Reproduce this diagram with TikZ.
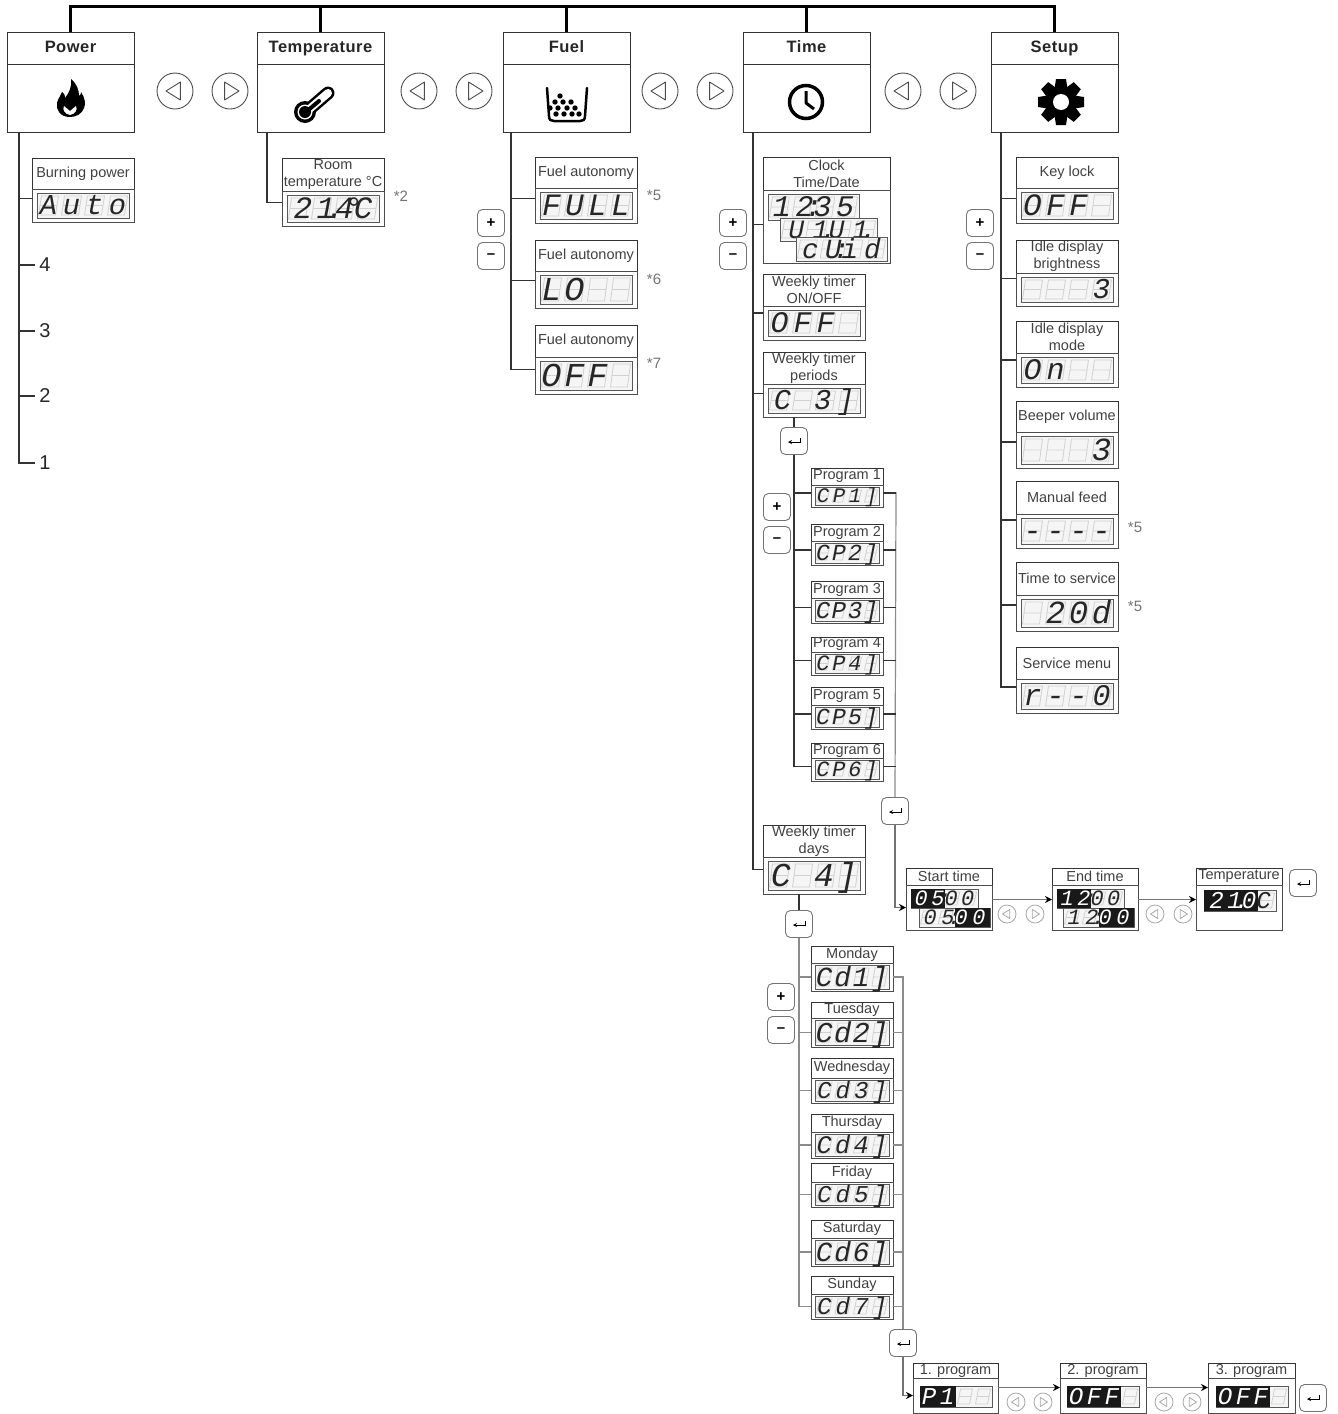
\documentclass[tikz,border=0pt]{standalone}
\usepackage{fontspec}
\setmainfont{Liberation Sans}
\newfontfamily\lcdfont{Liberation Mono}
\usetikzlibrary{arrows.meta, positioning}

% zero-width dot or colon between two display cells
\newcommand{\lcddot}[1]{\kern-.3em\rlap{#1}\kern.3em}

% display: name, x, y, width, height, text, black cells
\newcommand{\lcd}[7]{%
  \pgfmathsetmacro\lcdx{#2}%
  \pgfmathsetmacro\lcdy{#3}%
  \pgfmathsetmacro\lcdw{#4}%
  \pgfmathsetmacro\lcdh{#5}%
  \pgfmathsetmacro\lcdcw{\lcdw/4}%
  \pgfmathsetmacro\lcdfs{\lcdh*1.15}%
  \pgfmathsetmacro\lcdls{(\lcdcw/\lcdfs-0.6)*100}%
  \pgfmathsetmacro\lcdth{\lcdfs*0.66}%
  \node (#1) [lcdbg, minimum width=\lcdw, minimum height=\lcdh] at (\lcdx,\lcdy) {};
  \foreach \k in {0,1,2,3}{
    \pgfmathsetmacro\lcdl{\lcdx+\k*\lcdcw+3}
    \pgfmathsetmacro\lcdr{\lcdl+\lcdcw-6}
    \draw[ghost] (\lcdl+1.5,\lcdy+3) -- (\lcdr+1.5,\lcdy+3) -- (\lcdr-1.5,\lcdy+\lcdh-3) -- (\lcdl-1.5,\lcdy+\lcdh-3) -- cycle
      (\lcdl,\lcdy+\lcdh/2) -- (\lcdr,\lcdy+\lcdh/2);
  }
  \ifx\relax#7\relax\else
    \foreach \k in {#7}{\fill[black!90] (\lcdx+\k*\lcdcw,\lcdy) rectangle ++(\lcdcw,\lcdh);}
  \fi
  \node (#1v) [inner sep=0pt, text height=\lcdth pt, text depth=0pt, text=black!85]
    at (#1.center) {\lcdfont\itshape\fontsize{\lcdfs}{\lcdfs}\selectfont\addfontfeature{LetterSpace=\lcdls}#6\null};
}

% box: name, left, right, top, mid, bottom, title
\newcommand{\menubox}[7]{%
  \node (#1t) [titlebox, minimum width=#3-#2, minimum height=#5-#4] at (#2,#4) {#7};
  \node (#1) [bodybox, minimum width=#3-#2, minimum height=#6-#5] at (#2,#5) {};
}

% box holding one display, plus its text and black cells
\newcommand{\menulcd}[9]{%
  \menubox{#1}{#2}{#3}{#4}{#5}{#6}{#7}
  \pgfmathsetmacro\lcdm{(#6-#5)<30 ? 2 : 4}%
  \pgfmathsetmacro\lcdn{(#6-#5)<30 ? 4 : 5}%
  \lcd{#1d}{#2+\lcdn}{#5+\lcdm}{#3-#2-2*\lcdn}{#6-#5-2*\lcdm}{#8}{#9}
}

% top level box: name, left, title
\newcommand{\mainbox}[3]{%
  \node (#1t) [headbox] at (#2,32) {#3};
  \node (#1) [iconbox] at (#2,64) {};
}

\newcommand{\enterbtn}[3]{%
  \node (#1) [keybtn] at (#2,#3) {};
  \draw[enterarrow] (#2+6,#3-3) -- (#2+6,#3+1) -- (#2-6,#3+1);
}
\newcommand{\navleft}[5]{%
  \node (#1) [#5, minimum size=2*#4] at (#2,#3) {};
  \draw[#5, line join=round] (#2-#4*0.5,#3) -- (#2+#4*0.3,#3-#4*0.5) -- (#2+#4*0.3,#3+#4*0.5) -- cycle;
}
\newcommand{\navright}[5]{%
  \node (#1) [#5, minimum size=2*#4] at (#2,#3) {};
  \draw[#5, line join=round] (#2+#4*0.5,#3) -- (#2-#4*0.3,#3-#4*0.5) -- (#2-#4*0.3,#3+#4*0.5) -- cycle;
}

\begin{document}
\begin{tikzpicture}[x=1pt,y=-1pt]
\tikzstyle{bus} = [line width=3pt, black]
\tikzstyle{tree} = [line width=1.3pt, black!80]
\tikzstyle{rail} = [line width=1.2pt, black!45]
\tikzstyle{arrow} = [line width=1.2pt, black!55, -{Stealth[length=7pt,width=7pt,black]}]
\tikzstyle{enterarrow} = [line width=1pt, -{Stealth[length=4pt,width=4pt]}]
\tikzstyle{headbox} = [rectangle, draw=black!80, line width=1pt, anchor=north west, minimum width=127, minimum height=32, inner sep=0pt, outer sep=0pt, text=black!85, text height=12pt, text depth=3pt, font=\fontsize{16.5}{18}\selectfont\bfseries\addfontfeature{LetterSpace=3}]
\tikzstyle{iconbox} = [rectangle, draw=black!80, line width=1pt, anchor=north west, minimum width=127, minimum height=68, inner sep=0pt, outer sep=0pt]
\tikzstyle{titlebox} = [rectangle, draw=black!80, line width=1pt, anchor=north west, inner sep=0pt, outer sep=0pt, align=center, text=black!75, font=\fontsize{14.5}{17}\selectfont]
\tikzstyle{bodybox} = [rectangle, draw=black!70, line width=1pt, anchor=north west, inner sep=0pt, outer sep=0pt]
\tikzstyle{lcdbg} = [rectangle, draw=black!65, fill=black!4, line width=.8pt, anchor=north west, inner sep=0pt, outer sep=0pt]
\tikzstyle{ghost} = [black!18, line width=.8pt]
\tikzstyle{keybtn} = [rectangle, rounded corners=5pt, draw=black!55, line width=.9pt, minimum width=27, minimum height=27, inner sep=0pt, font=\fontsize{15}{15}\selectfont\bfseries]
\tikzstyle{navbig} = [circle, draw=black!70, line width=.9pt, inner sep=0pt]
\tikzstyle{navfade} = [circle, draw=black!35, line width=.8pt, inner sep=0pt]
\tikzstyle{note} = [text=black!55, inner sep=0pt, font=\fontsize{15}{15}\selectfont]
\tikzstyle{lvl} = [text=black!85, inner sep=4pt, font=\fontsize{20}{20}\selectfont]

\useasboundingbox (0,0) rectangle (1338,1414);

% top level
\mainbox{power}{7}{Power}
\mainbox{temp}{257}{Temperature}
\mainbox{fuel}{503}{Fuel}
\mainbox{time}{743}{Time}
\mainbox{setup}{991}{Setup}

\coordinate (bus) at (0,6);
\draw [bus] (powert.north) -- (powert.north |- bus) -- (setupt.north |- bus) -- (setupt.north);
\foreach \n in {temp,fuel,time}
  \draw [bus] (\n t.north) -- (\n t.north |- bus);

\navleft{navla}{175}{91}{18}{navbig}
\navright{navra}{230}{91}{18}{navbig}
\navleft{navlb}{419}{91}{18}{navbig}
\navright{navrb}{474}{91}{18}{navbig}
\navleft{navlc}{660}{91}{18}{navbig}
\navright{navrc}{715}{91}{18}{navbig}
\navleft{navld}{903}{91}{18}{navbig}
\navright{navrd}{958}{91}{18}{navbig}

% icons
\fill[black] (70,117) .. controls (60,117) and (56,110) .. (57,103) .. controls (58,98) and (61,96) .. (62,92)
  .. controls (65,94) and (65,96) .. (65,98) .. controls (69,93) and (72,87) .. (71,79)
  .. controls (77,84) and (79,90) .. (79,96) .. controls (81,95) and (81,93) .. (81,92)
  .. controls (85,98) and (86,104) .. (84,108) .. controls (82,114) and (76,117) .. (70,117) -- cycle;
\fill[white] (70,115) .. controls (65,114) and (62,110) .. (64,106) .. controls (66,108) and (68,109) .. (70,111)
  .. controls (72,109) and (74,108) .. (76,106) .. controls (78,110) and (75,114) .. (70,115) -- cycle;
\draw[line width=13pt, line cap=round] (306,112) -- (328,93);
\fill (305,112) circle (11);
\draw[white, line width=8pt, line cap=round] (306,112) -- (328,93);
\fill[white] (305,112) circle (7.5);
\fill (305,112) circle (6);
\draw[line width=4pt, line cap=round] (306,112) -- (319,101);
\draw[line width=2.5pt, line cap=round, line join=round] (547,88) -- (549,116) .. controls (549,120) and (551,121) .. (554,121) -- (580,121) .. controls (583,121) and (585,120) .. (585,116) -- (587,88);
\foreach \bx/\by in {560/96,555/102,563/102,571/102,550/108,558/108,567/108,575/108,556/114,564/114,572/114,579/114}
  \fill (\bx,\by) circle (2.7);
\draw[line width=3.5pt] (806,102) circle (16.5);
\draw[line width=3pt, line join=round] (806,91) -- (806,103) -- (814,109);
\fill (1061,102) circle (16);
\foreach \a in {0,45,...,315}
  \fill[shift={(1061,102)}, rotate=\a] (-5,-23) -- (5,-23) -- (7,-10) -- (-7,-10) -- cycle;
\fill[white] (1061,102) circle (8);

% power
\coordinate (powertrunk) at (19,132);
\menulcd{burning}{32}{134}{158}{189}{222}{Burning power}{Auto}{}
\node (lvl4) [lvl] at (45,265) {4};
\node (lvl3) [lvl] at (45,331) {3};
\node (lvl2) [lvl] at (45,396) {2};
\node (lvl1) [lvl] at (45,463) {1};
\draw [tree] (powertrunk) |- (lvl1.west);
\draw [tree] ([yshift=7pt]burning.west -| powertrunk) -- ([yshift=7pt]burning.west);
\foreach \n in {lvl4,lvl3,lvl2}
  \draw [tree] (powertrunk |- \n.west) -- (\n.west);

% temperature
\coordinate (temptrunk) at (267,132);
\menulcd{room}{282}{384}{158}{191}{226}{Room\\temperature °C}{21\lcddot{.}4\lcddot{°}C}{}
\node (noteb) [note] at (401,196) {*2};
\draw [tree] (temptrunk) |- ([yshift=6pt]room.west);

% fuel
\coordinate (fueltrunk) at (511,132);
\menulcd{fuelfull}{535}{637}{157}{188}{223}{Fuel autonomy}{FULL}{}
\menulcd{fuello}{535}{637}{240}{271}{308}{Fuel autonomy}{LO~~}{}
\menulcd{fueloff}{535}{637}{325}{357}{394}{Fuel autonomy}{OFF~}{}
\node (notec) [note] at (654,195) {*5};
\node (noted) [note] at (654,279) {*6};
\node (notee) [note] at (654,363) {*7};
\node (plusf) [keybtn] at (491,223) {+};
\node (minusf) [keybtn] at (491,256) {–};
\draw [tree] (fueltrunk) |- ([yshift=6pt]fueloff.west);
\foreach \n/\s in {fuelfull/7,fuello/9}
  \draw [tree] ([yshift=\s pt]\n.west) -- ([yshift=\s pt]\n.west -| fueltrunk);

% time
\coordinate (timetrunk) at (753,132);
\menubox{clock}{763}{890}{157}{190}{263}{Clock\\Time/Date}
\lcd{clocka}{768}{194}{91}{26}{12\lcddot{:}35}{}
\lcd{clockb}{780}{218}{97}{23}{U1\lcddot{.}U1\lcddot{.}}{}
\lcd{clockc}{796}{237}{91}{24}{cU\lcddot{:}id}{}
\menulcd{onoff}{763}{865}{274}{306}{340}{Weekly timer\\ON/OFF}{OFF~}{}
\menulcd{periods}{763}{865}{352}{384}{417}{Weekly timer\\periods}{C~3]}{}
\menulcd{days}{763}{865}{825}{857}{894}{Weekly timer\\days}{C~4]}{}
\node (plust) [keybtn] at (733,223) {+};
\node (minust) [keybtn] at (733,256) {–};
\draw [tree] (timetrunk) |- ([yshift=6pt]days.west);
\foreach \n/\s in {clock/2,onoff/10,periods/7}
  \draw [tree] ([yshift=\s pt]\n.west) -- ([yshift=\s pt]\n.west -| timetrunk);

% programs
\enterbtn{enterperiods}{794}{441}
\menulcd{pa}{811}{883}{468}{485}{507}{Program 1}{CP1]}{}
\menulcd{pb}{811}{883}{524}{541}{565}{Program 2}{CP2]}{}
\menulcd{pc}{811}{883}{581}{598}{623}{Program 3}{CP3]}{}
\menulcd{pd}{811}{883}{637}{652}{675}{Program 4}{CP4]}{}
\menulcd{pe}{811}{883}{687}{705}{729}{Program 5}{CP5]}{}
\menulcd{pf}{811}{883}{743}{758}{781}{Program 6}{CP6]}{}
\node (plusp) [keybtn] at (777,507) {+};
\node (minusp) [keybtn] at (777,540) {–};
\draw [tree] (enterperiods.north |- periods.south) -- (enterperiods.north);
\draw [tree] (enterperiods.south) |- ([yshift=3pt]pf.west);
\coordinate (prail) at (896,492);
\enterbtn{enterp}{895}{811}
\draw [rail] (prail) -- (enterp.north);
\foreach \n in {pa,pb,pc,pd,pe}
  \draw [tree] ([yshift=3pt]\n.west) -- ([yshift=3pt]\n.west -| enterperiods.south);
\foreach \n in {pa,pb,pc,pd,pe,pf}
  \draw [tree] ([yshift=3pt]\n.east) -- ([yshift=3pt]\n.east -| prail);

% program settings
\menubox{start}{906}{992}{868}{885}{930}{Start time}
\lcd{starta}{911}{889}{67}{19}{\textcolor{white}{05}\lcddot{:}00}{0,1}
\lcd{startb}{919}{908}{71}{19}{05\lcddot{:}\textcolor{white}{00}}{2,3}
\menubox{endt}{1052}{1138}{868}{885}{930}{End time}
\lcd{enda}{1057}{889}{67}{19}{\textcolor{white}{12}\lcddot{:}00}{0,1}
\lcd{endb}{1063}{908}{71}{19}{12\lcddot{:}\textcolor{white}{00}}{2,3}
\menubox{tempset}{1196}{1282}{868}{885}{930}{Temperature}
\lcd{tempsetd}{1204}{890}{72}{21}{\textcolor{white}{21\lcddot{.}0}C}{0,1,2}
\draw [arrow] (enterp.south) |- (start.west);
\draw [arrow] ([yshift=8pt]start.east) -- ([yshift=8pt]endt.west);
\draw [arrow] ([yshift=8pt]endt.east) -- ([yshift=8pt]tempset.west);
\navleft{navle}{1007}{914}{9}{navfade}
\navright{navre}{1035}{914}{9}{navfade}
\navleft{navlf}{1155}{914}{9}{navfade}
\navright{navrf}{1183}{914}{9}{navfade}
\enterbtn{entertemp}{1303}{883}

% days
\enterbtn{enterdays}{799}{924}
\menulcd{da}{811}{893}{946}{963}{991}{Monday}{Cd1]}{}
\menulcd{db}{811}{893}{1002}{1018}{1047}{Tuesday}{Cd2]}{}
\menulcd{dc}{811}{893}{1058}{1078}{1103}{Wednesday}{Cd3]}{}
\menulcd{dd}{811}{893}{1114}{1132}{1158}{Thursday}{Cd4]}{}
\menulcd{de}{811}{893}{1163}{1182}{1207}{Friday}{Cd5]}{}
\menulcd{df}{811}{893}{1220}{1238}{1266}{Saturday}{Cd6]}{}
\menulcd{dg}{811}{893}{1276}{1294}{1319}{Sunday}{Cd7]}{}
\node (plusd) [keybtn] at (781,997) {+};
\node (minusd) [keybtn] at (781,1030) {–};
\draw [tree] (enterdays.north |- days.south) -- (enterdays.north);
\draw [rail] (enterdays.south) |- (dg.west);
\coordinate (drail) at (903,976);
\enterbtn{enterd}{903}{1343}
\draw [rail] (drail) -- (enterd.north);
\foreach \n in {da,db,dc,dd,de,df}
  \draw [rail] (\n.west) -- (\n.west -| enterdays.south);
\foreach \n in {da,db,dc,dd,de,df,dg}
  \draw [rail] (\n.east) -- (\n.east -| drail);

% week programs
\menubox{proga}{913}{998}{1363}{1378}{1413}{1. program}
\lcd{progad}{920}{1386}{72}{21}{\textcolor{white}{P1}~~}{0,1}
\menubox{progb}{1060}{1146}{1363}{1378}{1413}{2. program}
\lcd{progbd}{1067}{1386}{72}{21}{\textcolor{white}{OFF}~}{0,1,2}
\menubox{progc}{1208}{1295}{1363}{1378}{1413}{3. program}
\lcd{progcd}{1216}{1386}{72}{21}{\textcolor{white}{OFF}~}{0,1,2}
\draw [arrow] (enterd.south) |- (proga.west);
\draw [arrow] ([yshift=8pt]proga.east) -- ([yshift=8pt]progb.west);
\draw [arrow] ([yshift=8pt]progb.east) -- ([yshift=8pt]progc.west);
\navleft{navlg}{1016}{1402}{9}{navfade}
\navright{navrg}{1043}{1402}{9}{navfade}
\navleft{navlh}{1164}{1402}{9}{navfade}
\navright{navrh}{1192}{1402}{9}{navfade}
\enterbtn{enterprog}{1313}{1398}

% setup
\coordinate (setuptrunk) at (1001,132);
\menulcd{keylock}{1016}{1118}{157}{188}{223}{Key lock}{OFF~}{}
\menulcd{bright}{1016}{1118}{240}{273}{306}{Idle display\\brightness}{~~~3}{}
\menulcd{idle}{1016}{1118}{321}{353}{387}{Idle display\\mode}{On~~}{}
\menulcd{beeper}{1016}{1118}{401}{432}{468}{Beeper volume}{~~~3}{}
\menulcd{manual}{1016}{1118}{481}{514}{548}{Manual feed}{----}{}
\menulcd{service}{1016}{1118}{562}{595}{631}{Time to service}{~20d}{}
\menulcd{menu}{1016}{1118}{647}{679}{713}{Service menu}{r--0}{}
\node (notef) [note] at (1135,527) {*5};
\node (noteg) [note] at (1135,606) {*5};
\node (pluss) [keybtn] at (980,223) {+};
\node (minuss) [keybtn] at (980,256) {–};
\draw [tree] (setuptrunk) |- ([yshift=9pt]menu.west);
\foreach \n/\s in {keylock/7,bright/11,idle/10,beeper/8,manual/11,service/8}
  \draw [tree] ([yshift=\s pt]\n.west) -- ([yshift=\s pt]\n.west -| setuptrunk);

\end{tikzpicture}
\end{document}
